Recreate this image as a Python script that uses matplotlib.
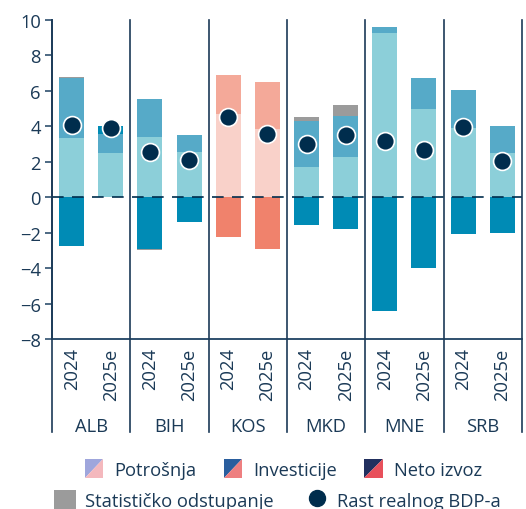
import numpy as np
import matplotlib
matplotlib.use("Agg")
import matplotlib.pyplot as plt
from matplotlib.patches import Polygon, Rectangle
from matplotlib.legend_handler import HandlerBase
from matplotlib.lines import Line2D

plt.rcParams['font.family'] = ['Open Sans', 'DejaVu Sans']

countries = ['ALB', 'BIH', 'KOS', 'MKD', 'MNE', 'SRB']
years = ['2024', '2025e']
potrosnja = [3.33, 2.48, 3.40, 2.54, 4.68, 3.86, 1.69, 2.26, 9.26, 4.97, 3.89, 2.48]
investicije = [3.38, 1.07, 2.13, 0.96, 2.20, 2.63, 2.60, 2.31, 0.33, 1.75, 2.15, 1.52]
neto_izvoz = [-2.75, 0.45, -2.93, -1.39, -2.22, -2.92, -1.56, -1.79, -6.41, -3.99, -2.07, -2.01]
stat_odst = [0.06, 0.0, -0.06, 0.0, -0.04, 0.0, 0.22, 0.62, 0.0, 0.0, 0.0, 0.0]
rast_bdp = [4.05, 3.88, 2.56, 2.09, 4.55, 3.59, 2.99, 3.50, 3.16, 2.69, 3.95, 2.03]

TXT = '#1b3a57'
NAVY = '#002d4d'
blue_pal = ['#8ccfd9', '#56aac8', '#008bb5']
red_pal = ['#f9d1c9', '#f4a999', '#f0826c']
GRAY = '#9b9b9b'

fig = plt.figure(figsize=(5.26, 5.1), dpi=100)
ax = fig.add_axes([0.099, 0.3333, 0.893, 0.6255])

n = len(potrosnja)
x = np.arange(n)
w = 0.64
for i in range(n):
    pal = red_pal if countries[i // 2] == 'KOS' else blue_pal
    pos, neg = 0.0, 0.0
    for val, col in [(potrosnja[i], pal[0]), (investicije[i], pal[1]),
                     (neto_izvoz[i], pal[2]), (stat_odst[i], GRAY)]:
        if val >= 0:
            ax.bar(x[i], val, w, bottom=pos, color=col, linewidth=0, zorder=2)
            pos += val
        else:
            ax.bar(x[i], val, w, bottom=neg, color=col, linewidth=0, zorder=2)
            neg += val

ax.scatter(x, rast_bdp, s=165, color=NAVY, edgecolor='white', linewidth=1.2, zorder=4)
ax.axhline(0, color=NAVY, lw=1.2, ls=(0, (7, 5)), zorder=3)

ax.set_xlim(-0.5, n - 0.5)
ax.set_ylim(-8, 10)
ax.set_yticks(range(-8, 11, 2))
ax.set_yticklabels([str(v).replace('-', '−') for v in range(-8, 11, 2)])
ax.tick_params(axis='y', colors='#2f506e', labelcolor=TXT, labelsize=13.2,
               length=5, width=1.2, pad=3)
ax.set_xticks(x)
ax.set_xticklabels(years * len(countries), rotation=90, fontsize=13.2, color=TXT)
ax.tick_params(axis='x', length=0, pad=6)
for s in ['top', 'right']:
    ax.spines[s].set_visible(False)
for s in ['left', 'bottom']:
    ax.spines[s].set_color('#2f506e')
    ax.spines[s].set_linewidth(1.4)

trans = ax.get_xaxis_transform()
for k in range(len(countries) + 1):
    xs = k * 2 - 0.5
    ax.plot([xs, xs], [1, -0.292], transform=trans, color='#1b3a57', lw=1.2,
            clip_on=False, zorder=5)
for k, c in enumerate(countries):
    ax.text(k * 2 + 0.5, -0.272, c, transform=trans, ha='center', va='center',
            fontsize=13.2, color=TXT)


class SplitHandler(HandlerBase):
    def __init__(self, c1, c2):
        super().__init__()
        self.c1, self.c2 = c1, c2

    def create_artists(self, legend, orig_handle, xdescent, ydescent, width, height, fontsize, trans):
        s = min(width, height)
        x0 = -xdescent + (width - s) / 2
        y0 = -ydescent + (height - s) / 2
        t1 = Polygon([[x0, y0], [x0, y0 + s], [x0 + s, y0 + s]], closed=True,
                     facecolor=self.c1, edgecolor='none', transform=trans)
        t2 = Polygon([[x0, y0], [x0 + s, y0], [x0 + s, y0 + s]], closed=True,
                     facecolor=self.c2, edgecolor='none', transform=trans)
        return [t1, t2]


h1, h2, h3 = Rectangle((0, 0), 1, 1), Rectangle((0, 0), 1, 1), Rectangle((0, 0), 1, 1)
fig.legend([h1, h2, h3], ['Potrošnja', 'Investicije', 'Neto izvoz'],
           handler_map={h1: SplitHandler('#9fa6dc', '#f4b8bd'),
                        h2: SplitHandler('#2a5e9e', '#ee7f80'),
                        h3: SplitHandler('#22305f', '#e8505b')},
           loc='center', bbox_to_anchor=(0.537, 0.078), ncol=3, frameon=False,
           fontsize=13.2, handlelength=1.2, handleheight=1.2, handletextpad=0.5,
           columnspacing=1.4, labelcolor=TXT)
g = Rectangle((0, 0), 1, 1, facecolor=GRAY)
d = Line2D([], [], marker='o', ls='none', color=NAVY, markersize=11.5)
fig.legend([g, d], ['Statističko odstupanje', 'Rast realnog BDP-a'],
           loc='center', bbox_to_anchor=(0.528, 0.018), ncol=2, frameon=False,
           fontsize=13.2, handlelength=1.2, handleheight=1.2, handletextpad=0.5,
           columnspacing=1.75, labelcolor=TXT)

fig.savefig('out.png', dpi=100)
